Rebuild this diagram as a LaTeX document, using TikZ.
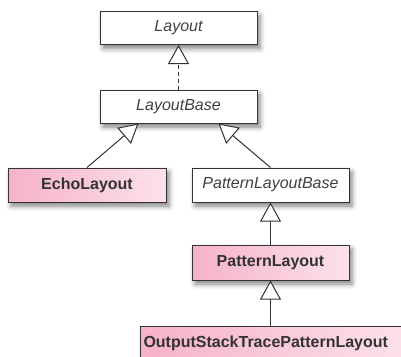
\documentclass[tikz,border=0pt]{standalone}
\usepackage{fontspec}
\setmainfont{Liberation Sans}
\usetikzlibrary{arrows.meta,shadows.blur}
\definecolor{pinkL}{HTML}{F6B2C8}
\definecolor{pinkR}{HTML}{FCE1EB}
\definecolor{edgegray}{HTML}{333333}
\tikzset{
  cls/.style={draw=edgegray, line width=1pt, minimum width=157pt, minimum height=33pt, inner sep=0pt,
    blur shadow={shadow xshift=3pt, shadow yshift=-4pt, shadow blur radius=5pt, shadow opacity=50}},
  abscls/.style={cls, fill=white, text=black!75, font=\fontsize{16}{19}\selectfont\itshape},
  concls/.style={cls, left color=pinkL, right color=pinkR, text=black!80, font=\fontsize{16}{19}\selectfont\bfseries},
  inh/.style={draw=edgegray, line width=1pt, -{Triangle[open, length=19pt, width=21pt, fill=white]}},
}
\begin{document}
\begin{tikzpicture}[x=1pt, y=-1pt]
  \useasboundingbox (0,0) rectangle (401,356);
  \clip (0,0) rectangle (401,356);
  \def\ox{40}
  \node[abscls] (layout) at (178.5,28) {Layout};
  \node[abscls] (base) at (178.5,106.5) {LayoutBase};
  \node[concls, minimum width=158pt, minimum height=34pt] (echo) at (87,185) {EchoLayout};
  \node[abscls, minimum height=34pt] (plbase) at (270.5,185) {PatternLayoutBase};
  \node[concls, minimum height=35pt] (pl) at (270.5,262.5) {PatternLayout};
  \node[concls, anchor=north west, minimum height=34pt, inner xsep=3pt, text width=264pt, align=left] (ostp) at (140,326) {OutputStackTracePatternLayout};
  \draw[inh, dash pattern=on 4pt off 3pt] (base) -- (layout);
  \draw[inh] (echo.north) -- ([xshift=-\ox pt]base.south);
  \draw[inh] (plbase.north) -- ([xshift=\ox pt]base.south);
  \draw[inh] (pl) -- (plbase);
  \draw[inh] (ostp.north -| pl.south) -- (pl.south);
\end{tikzpicture}
\end{document}
